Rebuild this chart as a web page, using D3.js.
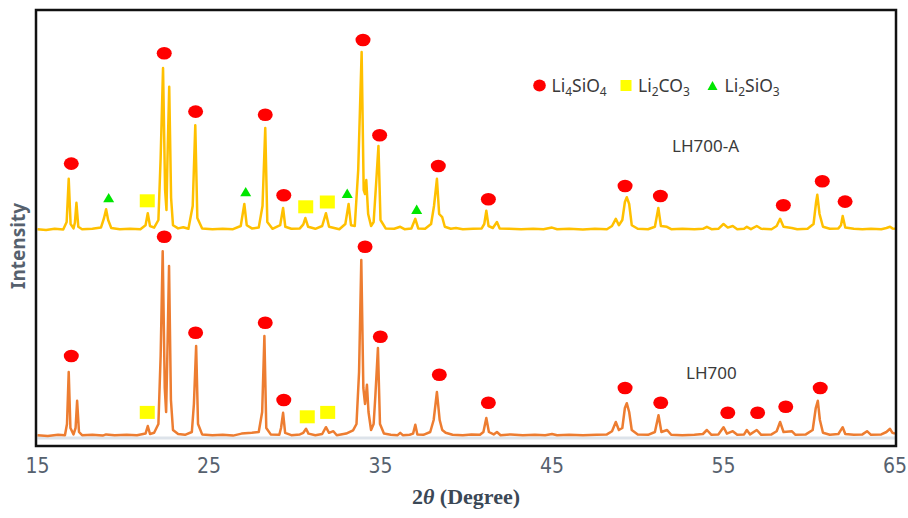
<!DOCTYPE html>
<html>
    <head>
        <meta charset="utf-8" />
        <title>XRD LH700 / LH700-A</title>
        <style>
            body { margin: 0; background: #fff; }
        </style>
    </head>
    <body>
    <script src="https://cdn.jsdelivr.net/npm/d3@7"></script>
    <script>
        // 2theta (deg), intensity (a.u., relative to each pattern's own baseline)
        var lh700a = [
            [15.0,2],[15.5,0],[16.0,3],[16.5,1],[16.7,20],[16.82,128],[16.93,15],[17.1,4],[17.18,18],[17.27,68],[17.38,8],[17.6,2],
            [18.2,3],[18.7,6],[18.88,30],[19.0,52],[19.12,25],[19.3,5],[19.8,2],[20.4,3],[21.0,2],[21.3,12],[21.43,42],[21.56,10],
            [21.8,6],[22.05,25],[22.18,180],[22.32,405],[22.44,100],[22.52,50],[22.58,180],[22.68,358],[22.79,80],[22.9,12],[23.2,4],
            [23.5,7],[23.8,3],[24.05,60],[24.2,262],[24.32,30],[24.6,4],[25.2,2],[25.8,3],[26.4,2],[26.85,10],[27.06,65],[27.2,12],
            [27.5,4],[27.9,6],[28.12,60],[28.28,255],[28.4,20],[28.7,3],[29.15,12],[29.32,55],[29.45,8],[29.8,3],[30.3,4],[30.5,14],
            [30.62,30],[30.78,8],[31.2,3],[31.6,10],[31.82,42],[32.0,8],[32.3,5],[32.6,2],[32.95,15],[33.14,65],[33.28,12],[33.5,10],
            [33.7,150],[33.9,445],[34.02,100],[34.1,90],[34.17,125],[34.28,40],[34.45,10],[34.6,20],[34.75,120],[34.88,210],[35.0,25],
            [35.3,4],[35.8,3],[36.15,8],[36.4,2],[36.8,4],[37.03,28],[37.2,4],[37.6,3],[37.95,15],[38.12,60],[38.29,128],[38.42,40],
            [38.6,32],[38.75,8],[39.1,3],[39.4,5],[39.8,2],[40.4,3],[40.9,4],[41.05,15],[41.17,48],[41.3,10],[41.55,5],[41.79,20],
            [41.95,4],[42.5,3],[43.2,2],[43.9,3],[44.5,2],[45.0,6],[45.3,2],[46.0,3],[46.8,1],[47.5,3],[48.2,2],[48.5,10],[48.72,28],
            [48.9,12],[49.1,25],[49.25,70],[49.36,82],[49.5,65],[49.65,12],[50.0,3],[50.6,2],[51.0,8],[51.2,55],[51.35,10],[51.7,8],
            [51.95,2],[52.6,3],[53.3,2],[53.8,3],[54.03,8],[54.3,2],[54.7,3],[55.0,15],[55.25,6],[55.54,10],[55.8,2],[56.2,3],[56.36,8],
            [56.6,2],[56.94,10],[57.2,3],[57.8,2],[58.1,10],[58.3,28],[58.5,8],[58.98,5],[59.3,2],[59.9,3],[60.25,15],[60.4,70],
            [60.47,88],[60.6,40],[60.8,8],[61.2,3],[61.7,4],[61.85,12],[61.95,35],[62.1,6],[62.6,3],[63.1,2],[63.6,3],[64.2,2],
            [64.5,5],[64.71,8],[64.85,4],[65.0,3]
        ];

        var lh700 = [
            [15.0,2],[15.6,0],[16.2,3],[16.6,2],[16.72,30],[16.82,160],[16.92,20],[17.1,4],[17.22,20],[17.31,88],[17.42,10],[17.6,2],
            [18.2,3],[18.8,1],[19.0,4],[19.5,2],[20.2,3],[20.8,2],[21.3,6],[21.43,25],[21.56,5],[21.8,8],[22.05,30],[22.18,200],
            [22.3,462],[22.42,120],[22.5,60],[22.57,200],[22.67,425],[22.78,90],[22.9,15],[23.2,5],[23.6,3],[24.0,10],[24.12,80],
            [24.25,225],[24.36,30],[24.6,4],[25.2,2],[25.8,3],[26.4,1],[26.9,6],[27.5,8],[27.9,10],[28.1,60],[28.23,250],[28.34,20],
            [28.6,4],[29.1,3],[29.2,20],[29.32,58],[29.44,8],[29.8,2],[30.3,4],[30.5,8],[30.66,18],[30.8,6],[31.2,2],[31.6,5],
            [31.82,22],[32.0,8],[32.25,12],[32.45,2],[33.0,6],[33.4,14],[33.6,30],[33.75,160],[33.88,440],[34.0,120],[34.1,80],
            [34.21,128],[34.3,60],[34.45,15],[34.6,30],[34.7,100],[34.85,220],[34.97,30],[35.2,6],[35.6,3],[36.0,2],[36.15,8],
            [36.3,2],[36.7,3],[36.9,6],[37.03,28],[37.15,4],[37.5,3],[37.9,10],[38.1,40],[38.29,110],[38.45,40],[38.6,15],[38.8,8],
            [39.2,3],[39.8,2],[40.3,4],[40.8,3],[41.0,10],[41.17,45],[41.32,10],[41.6,4],[41.79,10],[42.0,2],[42.6,4],[43.3,2],
            [44.0,3],[44.6,2],[45.0,5],[45.3,2],[46.0,3],[46.8,2],[47.6,3],[48.2,4],[48.5,12],[48.72,35],[48.9,15],[49.1,20],
            [49.25,70],[49.36,82],[49.5,60],[49.65,15],[50.0,4],[50.6,3],[51.0,10],[51.21,52],[51.38,10],[51.71,15],[51.95,3],
            [52.6,2],[53.3,3],[53.8,5],[54.03,15],[54.3,3],[54.7,4],[55.0,22],[55.2,6],[55.54,12],[55.8,3],[56.2,4],[56.36,15],
            [56.55,4],[56.94,15],[57.2,3],[57.8,4],[58.1,12],[58.3,35],[58.5,10],[58.98,12],[59.2,3],[59.8,4],[60.2,15],[60.38,70],
            [60.5,88],[60.62,40],[60.8,8],[61.2,3],[61.7,5],[61.95,22],[62.1,5],[62.6,3],[63.1,4],[63.37,12],[63.6,3],[64.2,4],
            [64.5,10],[64.71,18],[64.85,8],[65.0,6]
        ];

        // phase markers [2theta, height above baseline]
        var li4sio4A = [[16.97,166],[22.39,442],[24.22,296],[28.28,288],[29.36,87],[33.98,475],[34.95,237],[38.37,160],
                        [41.29,77],[49.26,110],[51.32,85],[58.49,62],[60.76,122],[62.09,71]];
        var li2co3A  = [[21.4,73],[30.64,58],[31.9,70]];
        var li2sio3A = [[19.15,81],[27.14,96],[33.06,92],[37.11,52]];

        var li4sio4B = [[16.97,200],[22.39,498],[24.22,258],[28.28,283],[29.36,90],[34.1,473],[34.99,248],[38.43,153],
                        [41.29,83],[49.26,120],[51.34,83],[55.25,58],[56.99,58],[58.63,73],[60.64,120]];
        var li2co3B  = [[21.4,59],[30.73,48],[31.92,59]];

        var xTicks = [15, 25, 35, 45, 55, 65];
        var phases = ['Li4SiO4', 'Li2CO3', 'Li2SiO3'];
        var sampleNames = ['LH700-A', 'LH700'];
        var offsetA = 515;

        var width = 908,
            height = 518;

        var svg = d3.select('body').append('svg')
                    .attr('width', width)
                    .attr('height', height);

        var x = d3.scaleLinear().domain([15, 65]).range([37.5, 895]);
        var y = d3.scaleLinear().domain([-25, 1065]).range([446, 10]);

        var colorA = '#ffc000',
            colorB = '#ed7d31';

        // light band under the lower pattern
        svg.append('line')
            .attr('x1', x(15)).attr('x2', x(65))
            .attr('y1', y(-5)).attr('y2', y(-5))
            .attr('stroke', '#dde3ea')
            .attr('stroke-width', 3);

        var line = d3.line()
            .x(function(d) { return x(d[0]); })
            .y(function(d) { return y(d[1]); });

        var lineA = d3.line()
            .x(function(d) { return x(d[0]); })
            .y(function(d) { return y(d[1] + offsetA); });

        svg.append('path')
            .attr('d', lineA(lh700a))
            .attr('fill', 'none')
            .attr('stroke', colorA)
            .attr('stroke-width', 2.5)
            .attr('stroke-linejoin', 'round');

        svg.append('path')
            .attr('d', line(lh700))
            .attr('fill', 'none')
            .attr('stroke', colorB)
            .attr('stroke-width', 2.5)
            .attr('stroke-linejoin', 'round');

        // frame
        svg.append('rect')
            .attr('x', x(15) - 1.5)
            .attr('y', y(1065))
            .attr('width', x(65) - x(15) + 2.5)
            .attr('height', y(-25) - y(1065))
            .attr('fill', 'none')
            .attr('stroke', '#111')
            .attr('stroke-width', 2.5);

        function dots(data, off) {
            svg.selectAll(null)
                .data(data)
              .enter().append('ellipse')
                .attr('cx', function(d) { return x(d[0]); })
                .attr('cy', function(d) { return y(d[1] + off); })
                .attr('rx', 7.5)
                .attr('ry', 6.3)
                .attr('fill', '#ff0000');
        }
        function squares(data, off) {
            svg.selectAll(null)
                .data(data)
              .enter().append('rect')
                .attr('x', function(d) { return x(d[0]) - 7.5; })
                .attr('y', function(d) { return y(d[1] + off) - 6.5; })
                .attr('width', 15)
                .attr('height', 13)
                .attr('fill', '#ffff00');
        }
        function triangles(data, off) {
            svg.selectAll(null)
                .data(data)
              .enter().append('path')
                .attr('d', function(d) {
                    var cx = x(d[0]), cy = y(d[1] + off);
                    return 'M' + (cx - 5.5) + ',' + (cy + 4.7) + 'L' + (cx + 5.5) + ',' + (cy + 4.7) + 'L' + cx + ',' + (cy - 4.7) + 'Z';
                })
                .attr('fill', '#00e600');
        }

        dots(li4sio4A, offsetA);
        squares(li2co3A, offsetA);
        triangles(li2sio3A, offsetA);
        dots(li4sio4B, 0);
        squares(li2co3B, 0);

        // x axis labels
        svg.selectAll('.tick-label')
            .data(xTicks)
          .enter().append('text')
            .attr('class', 'tick-label')
            .attr('x', function(d) { return x(d); })
            .attr('y', 473)
            .attr('text-anchor', 'middle')
            .attr('font-family', '"Liberation Sans Narrow", "DejaVu Sans Condensed", sans-serif')
            .attr('font-size', 21)
            .attr('fill', '#56616e')
            .text(function(d) { return d; });

        var xt = svg.append('text')
            .attr('x', 466)
            .attr('y', 504)
            .attr('text-anchor', 'middle')
            .attr('font-family', '"Liberation Serif", "DejaVu Serif", serif')
            .attr('font-weight', 'bold')
            .attr('font-size', 22)
            .attr('fill', '#3b4856');
        xt.append('tspan').text('2');
        xt.append('tspan').attr('font-style', 'italic').text('\u03b8');
        xt.append('tspan').text(' (Degree)');

        svg.append('text')
            .attr('transform', 'translate(25,246) rotate(-90)')
            .attr('text-anchor', 'middle')
            .attr('font-family', '"Noto Sans", "Open Sans", sans-serif')
            .attr('font-weight', 'bold')
            .attr('font-size', 19)
            .attr('fill', '#56616e')
            .text('Intensity');

        // formula with subscripted digits
        function formula(sel, name) {
            var parts = name.match(/[A-Za-z]+|\d+/g);
            var sub = false;
            parts.forEach(function(p) {
                var isNum = /\d/.test(p);
                var t = sel.append('tspan').text(p);
                if (isNum && !sub) { t.attr('dy', 4).attr('font-size', 12); sub = true; }
                else if (isNum) { t.attr('font-size', 12); }
                else if (sub) { t.attr('dy', -4); sub = false; }
            });
        }

        var legendX = [539.5, 626, 712.5];
        var legendY = 85.5;
        var textFont = '"Noto Sans", "Open Sans", sans-serif';

        svg.append('ellipse').attr('cx', legendX[0]).attr('cy', legendY).attr('rx', 6.3).attr('ry', 6)
            .attr('fill', '#ff0000');
        svg.append('rect').attr('x', legendX[1] - 5.5).attr('y', legendY - 5.5).attr('width', 11).attr('height', 11)
            .attr('fill', '#ffff00');
        svg.append('path')
            .attr('d', 'M' + (legendX[2] - 5) + ',' + (legendY + 4.5) + 'L' + (legendX[2] + 5) + ',' + (legendY + 4.5) + 'L' + legendX[2] + ',' + (legendY - 4.5) + 'Z')
            .attr('fill', '#00e600');

        phases.forEach(function(p, i) {
            var t = svg.append('text')
                .attr('x', legendX[i] + 12)
                .attr('y', legendY + 6.5)
                .attr('font-family', textFont)
                .attr('font-size', 17.5)
                .attr('fill', '#3a3a3a');
            formula(t, p);
        });

        svg.append('text')
            .attr('x', 672)
            .attr('y', 152)
            .attr('font-family', textFont)
            .attr('font-size', 17)
            .attr('fill', '#3a3a3a')
            .text(sampleNames[0]);

        svg.append('text')
            .attr('x', 686)
            .attr('y', 379)
            .attr('font-family', textFont)
            .attr('font-size', 17)
            .attr('fill', '#3a3a3a')
            .text(sampleNames[1]);
    </script>
    </body>
</html>
